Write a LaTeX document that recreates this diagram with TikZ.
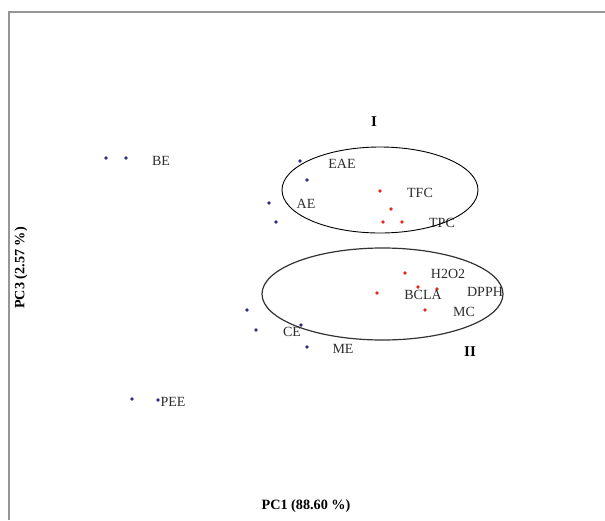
\documentclass[tikz,border=0pt]{standalone}
\usepackage{fontspec}
\setmainfont{Liberation Serif}
\definecolor{ptblue}{RGB}{45,45,135}
\definecolor{ptred}{RGB}{230,40,30}
\definecolor{lbl}{RGB}{45,45,45}
\definecolor{frame}{RGB}{150,150,150}
\begin{document}
\begin{tikzpicture}[x=1pt,y=-1pt,
  bdot/.style={circle,fill=ptblue,inner sep=0pt,minimum size=3.8pt},
  rdot/.style={circle,fill=ptred,inner sep=0pt,minimum size=3.8pt},
  lab/.style={font=\fontsize{14}{14}\selectfont,text=lbl,inner sep=0pt},
  grp/.style={font=\bfseries\fontsize{15}{15}\selectfont,inner sep=0pt},
  axl/.style={font=\bfseries\fontsize{14.2}{14.2}\selectfont,inner sep=0pt}]
\useasboundingbox (0,0) rectangle (605,520);
\fill[white] (0,0) rectangle (605,520);
% frame
\draw[frame,line width=1.6pt] (9,520) -- (9,12) -- (605,12);
% blue points
\node[bdot] (be1) at (106,158) {};
\node[bdot] (be2) at (126,158) {};
\node[lab] (lbe) at (161,161) {BE};
\node[bdot] (eae1) at (300,161) {};
\node[bdot] (eae2) at (307,180) {};
\node[lab] (leae) at (342,164) {EAE};
\node[bdot] (ae1) at (269,203) {};
\node[bdot] (ae2) at (276,222) {};
\node[lab] (lae) at (306,204) {AE};
\node[bdot] (ce1) at (247,310) {};
\node[bdot] (ce2) at (256,330) {};
\node[bdot] (ce3) at (301,325) {};
\node[lab] (lce) at (292,332) {CE};
\node[bdot] (me1) at (307,347) {};
\node[lab] (lme) at (343,349) {ME};
\node[bdot] (pee1) at (132,399) {};
\node[bdot] (pee2) at (158,400) {};
\node[lab] (lpee) at (173,402) {PEE};
% red points
\node[rdot] (tfc1) at (380,191) {};
\node[lab] (ltfc) at (420,193) {TFC};
\node[rdot] (tpc1) at (391,209) {};
\node[rdot] (tpc2) at (383,222) {};
\node[rdot] (tpc3) at (402,222) {};
\node[lab] (ltpc) at (442,223) {TPC};
\node[rdot] (h2o2) at (405,273) {};
\node[lab] (lh2o2) at (448,274) {H2O2};
\node[rdot] (bcla1) at (377,293) {};
\node[rdot] (bcla2) at (418,287) {};
\node[rdot] (dpph) at (437,289) {};
\node[lab] (lbcla) at (423,295) {BCLA};
\node[lab] (ldpph) at (485,292) {DPPH};
\node[rdot] (mc) at (425,310) {};
\node[lab] (lmc) at (464,312) {MC};
% group ellipses
\draw[black,line width=0.9pt] (380,190) ellipse [x radius=98pt, y radius=43pt];
\draw[black!80,line width=1.2pt] (382.5,294) ellipse [x radius=120.5pt, y radius=46pt];
\node[grp] (g1) at (374,122) {I};
\node[grp] (g2) at (470,352) {II};
% axis labels
\node[axl] (xlab) at (306,506) {PC1 (88.60 \%)};
\node[axl,rotate=90] (ylab) at (21,268) {PC3 (2.57 \%)};
\end{tikzpicture}
\end{document}
